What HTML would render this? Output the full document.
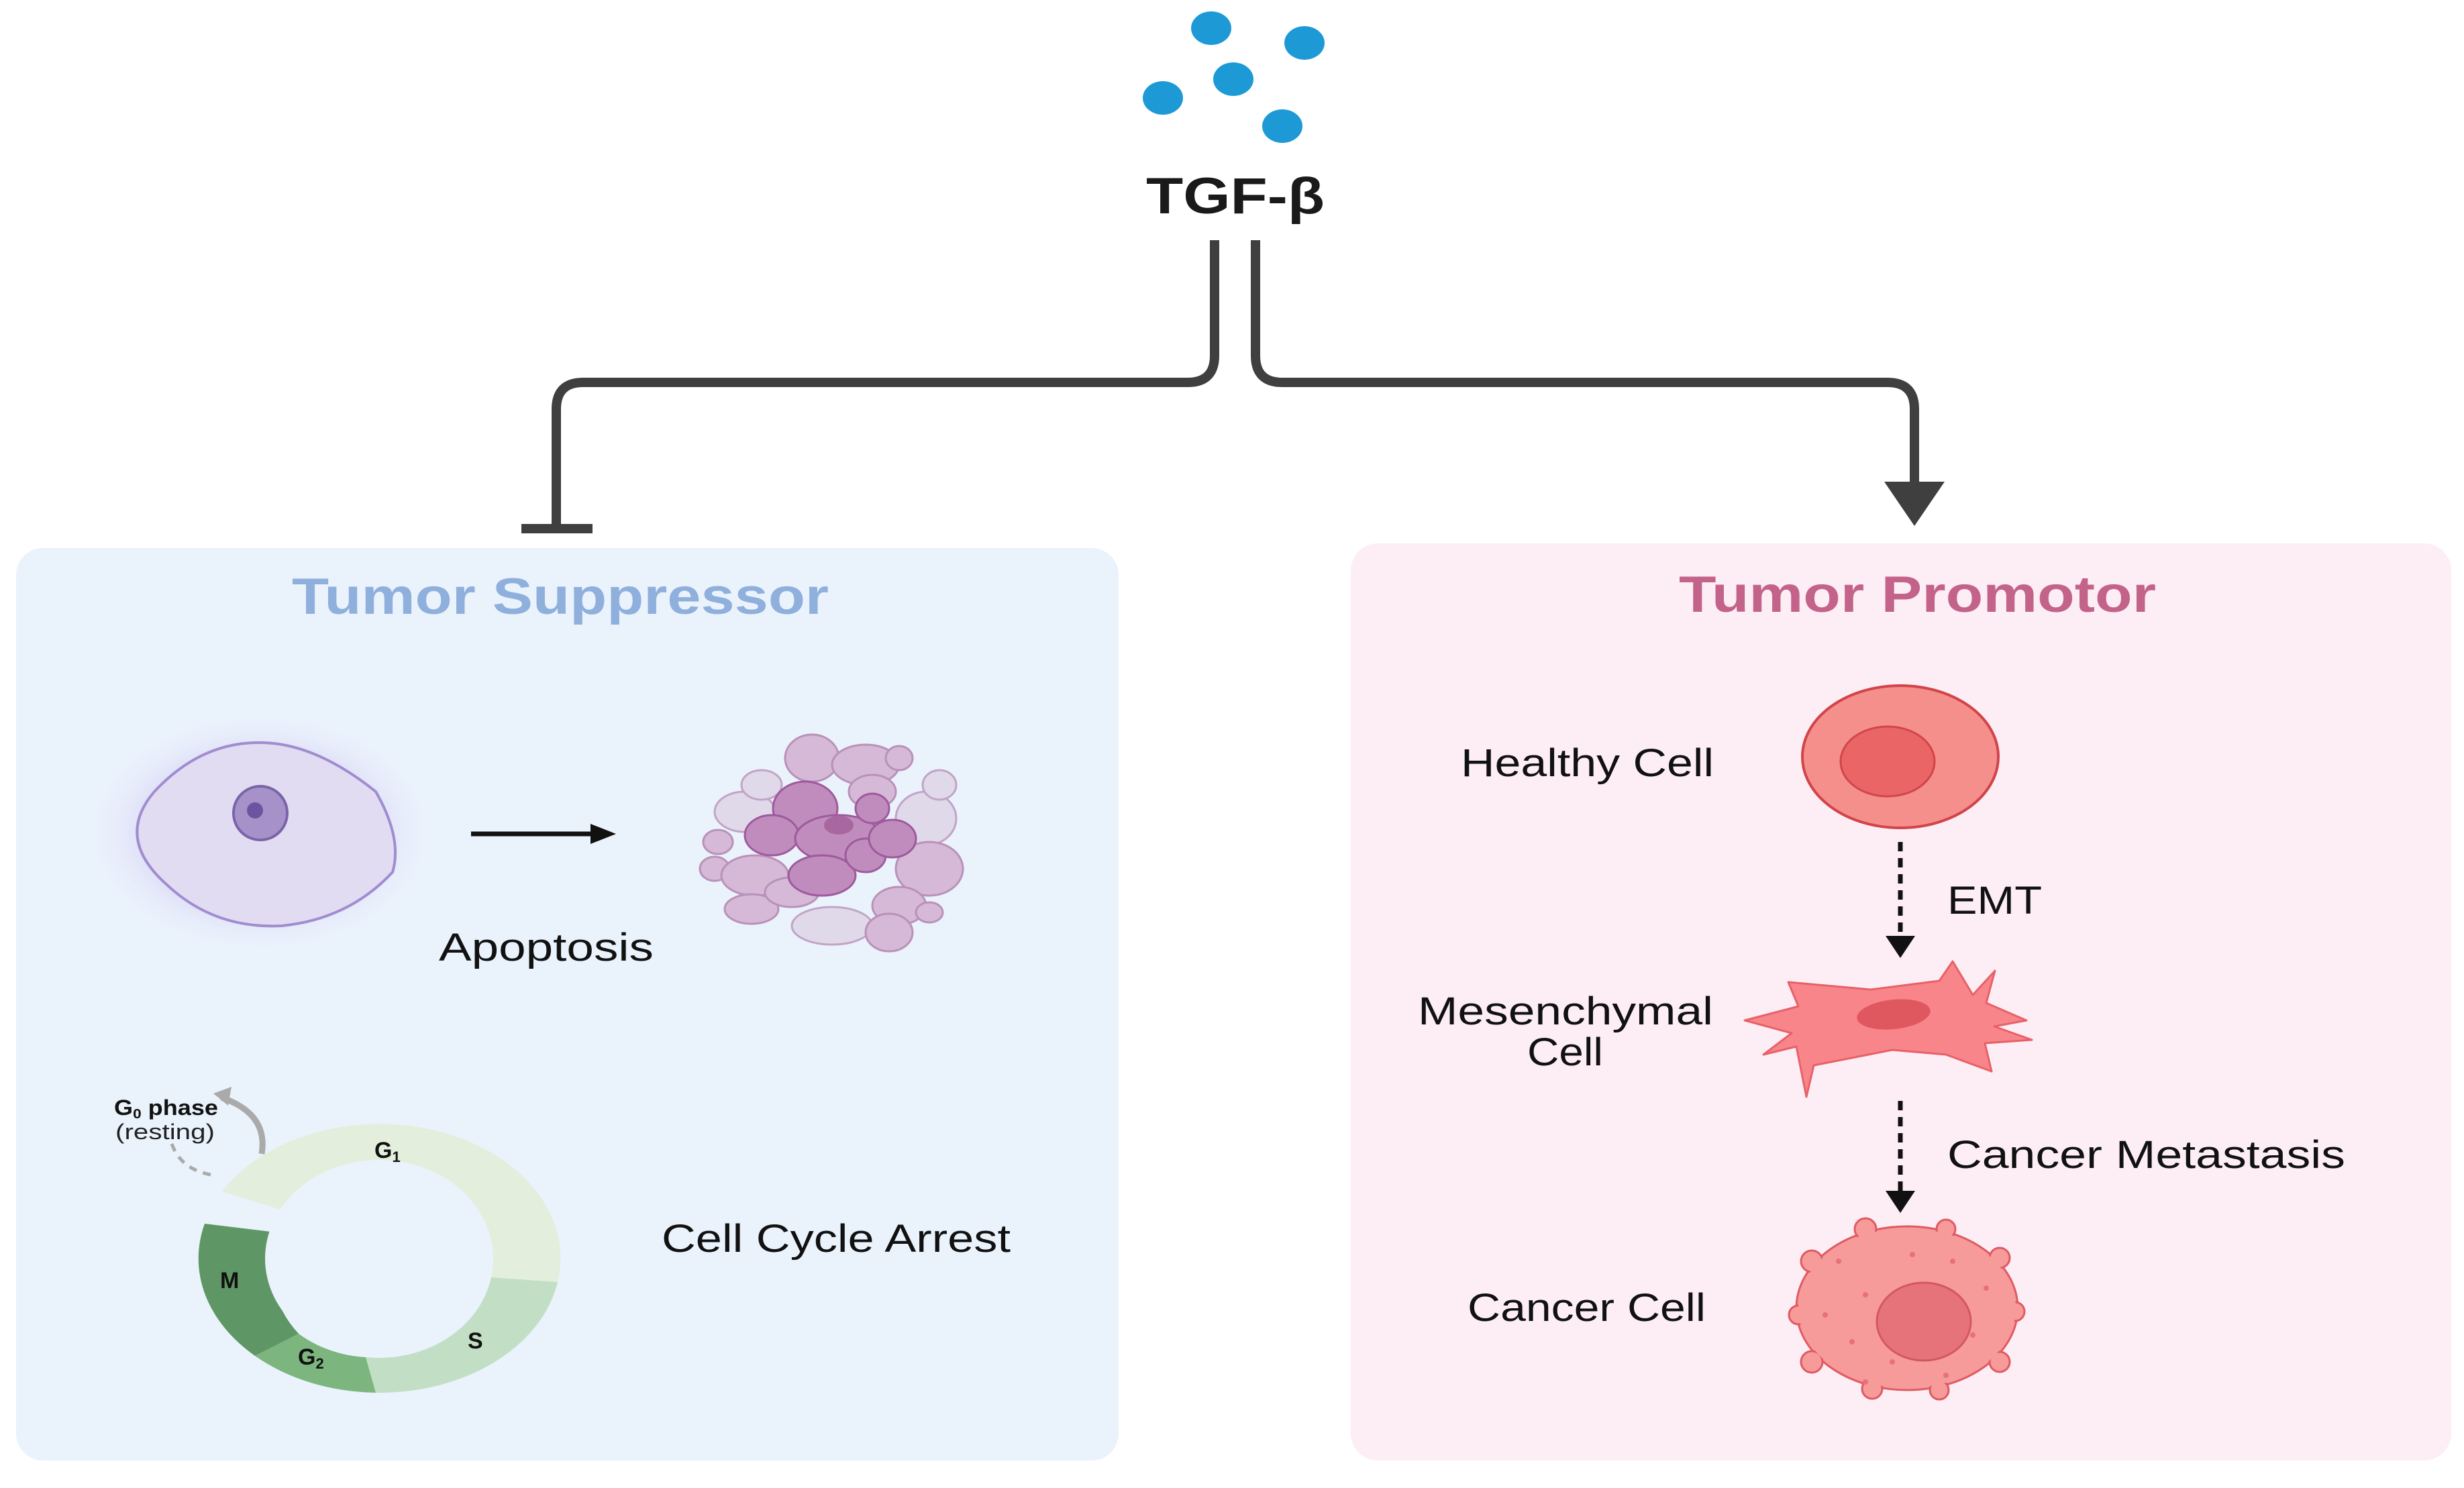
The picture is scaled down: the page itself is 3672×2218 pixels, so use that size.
<!DOCTYPE html>
<html><head><meta charset="utf-8"><style>
html,body{margin:0;padding:0;background:#fff;}
svg{display:block;}
text{font-family:"Liberation Sans",sans-serif;}
</style></head><body>
<svg width="3672" height="2218" viewBox="0 0 3672 2218" xmlns="http://www.w3.org/2000/svg">
<defs>
<radialGradient id="glow" cx="50%" cy="50%" r="50%">
<stop offset="0%" stop-color="#c9bff0" stop-opacity="0.8"/>
<stop offset="70%" stop-color="#d6d0f3" stop-opacity="0.5"/>
<stop offset="100%" stop-color="#eaf2fc" stop-opacity="0"/>
</radialGradient>
</defs>
<rect width="3672" height="2218" fill="#fff"/>
<rect x="24" y="817" width="1643" height="1360" rx="40" fill="#eaf2fc"/>
<rect x="2013" y="810" width="1640" height="1367" rx="40" fill="#fdeef6"/>
<g fill="#1d9ad6">
<ellipse cx="1805" cy="42" rx="30" ry="25"/>
<ellipse cx="1944" cy="64" rx="30" ry="25"/>
<ellipse cx="1838" cy="118" rx="30" ry="25"/>
<ellipse cx="1733" cy="146" rx="30" ry="25"/>
<ellipse cx="1911" cy="188" rx="30" ry="25"/>
</g>
<text x="1708" y="318" font-size="76" font-weight="bold" fill="#1a1a1a" textLength="266" lengthAdjust="spacingAndGlyphs">TGF-β</text>
<g fill="none" stroke="#3f3f3f" stroke-width="14">
<path d="M1810,358 L1810,530 Q1810,570 1770,570 L869,570 Q829,570 829,610 L829,788"/>
<path d="M1871,358 L1871,530 Q1871,570 1911,570 L2813,570 Q2853,570 2853,610 L2853,720"/>
<line x1="777" y1="788" x2="883" y2="788"/>
</g>
<polygon points="2808,718 2898,718 2853,784" fill="#3f3f3f"/>
<text x="435" y="915" font-size="76" font-weight="bold" fill="#8fb0dc" textLength="800" lengthAdjust="spacingAndGlyphs">Tumor Suppressor</text>
<text x="2502" y="912" font-size="76" font-weight="bold" fill="#c4638a" textLength="711" lengthAdjust="spacingAndGlyphs">Tumor Promotor</text>
<ellipse cx="388" cy="1241" rx="260" ry="180" fill="url(#glow)"/>
<path d="M230,1180 Q300,1105 390,1107 Q470,1108 560,1180 Q600,1250 585,1300 Q520,1370 420,1380 Q320,1385 250,1320 Q170,1250 230,1180 Z" fill="#e2dcf2" stroke="#a08cd0" stroke-width="4"/>
<circle cx="388" cy="1212" r="40" fill="#a691c8" stroke="#7a64a8" stroke-width="4"/>
<circle cx="380" cy="1208" r="12" fill="#6e54a0"/>
<line x1="702" y1="1243" x2="885" y2="1243" stroke="#111" stroke-width="7"/>
<polygon points="880,1228 918,1243 880,1258" fill="#111"/>
<text x="654" y="1432" font-size="58" fill="#111" textLength="320" lengthAdjust="spacingAndGlyphs">Apoptosis</text>
<g stroke="#b991b9" stroke-width="3">
<g fill="#ddd3e6" opacity="0.8">
<ellipse cx="1110" cy="1210" rx="45" ry="30"/><ellipse cx="1135" cy="1170" rx="30" ry="22"/>
<ellipse cx="1380" cy="1220" rx="45" ry="40"/><ellipse cx="1240" cy="1380" rx="60" ry="28"/>
<ellipse cx="1400" cy="1170" rx="25" ry="22"/>
</g>
<g fill="#d5b9d6">
<ellipse cx="1070" cy="1255" rx="22" ry="18"/><ellipse cx="1065" cy="1295" rx="22" ry="18"/>
<ellipse cx="1125" cy="1305" rx="50" ry="30"/><ellipse cx="1120" cy="1355" rx="40" ry="22"/>
<ellipse cx="1210" cy="1130" rx="40" ry="35"/><ellipse cx="1290" cy="1140" rx="50" ry="30"/>
<ellipse cx="1340" cy="1130" rx="20" ry="18"/><ellipse cx="1300" cy="1180" rx="35" ry="25"/>
<ellipse cx="1385" cy="1295" rx="50" ry="40"/><ellipse cx="1340" cy="1350" rx="40" ry="28"/>
<ellipse cx="1325" cy="1390" rx="35" ry="28"/><ellipse cx="1385" cy="1360" rx="20" ry="15"/>
<ellipse cx="1180" cy="1330" rx="40" ry="22"/>
</g>
<g fill="#bf8cbd" stroke="#9e5a9c">
<ellipse cx="1200" cy="1205" rx="48" ry="40"/><ellipse cx="1150" cy="1245" rx="40" ry="30"/>
<ellipse cx="1250" cy="1250" rx="65" ry="35"/><ellipse cx="1225" cy="1305" rx="50" ry="30"/>
<ellipse cx="1290" cy="1275" rx="30" ry="25"/><ellipse cx="1300" cy="1205" rx="25" ry="22"/>
<ellipse cx="1330" cy="1250" rx="35" ry="28"/>
</g>
<ellipse cx="1250" cy="1230" rx="22" ry="14" fill="#a8679f" stroke="none"/>
</g>
<g transform="translate(565,1876)">
<path d="M-234,-100 A270,200 0 0 1 266,35 L167,28 A170,147 0 0 0 -147,-73 Z" fill="#e3efdc"/>
<path d="M266,35 A270,200 0 0 1 -5,200 L-20,147 A170,147 0 0 0 167,28 Z" fill="#c2dfc6"/>
<path d="M-5,200 A270,200 0 0 1 -185,145 L-120,112 A170,147 0 0 0 -20,147 Z" fill="#7db57f"/>
<path d="M-185,145 A270,200 0 0 1 -260,-52 L-145,-38 A170,147 0 0 0 -120,112 Z" fill="#5f9665"/>
<ellipse cx="0" cy="0" rx="170" ry="147" fill="#eaf2fc"/>
</g>
<g font-weight="bold" font-size="34" fill="#111">
<text x="558" y="1726">G<tspan font-size="22" dy="6">1</tspan></text>
<text x="697" y="2010">S</text>
<text x="444" y="2034">G<tspan font-size="22" dy="6">2</tspan></text>
<text x="328" y="1920">M</text>
<text x="170" y="1662" font-size="32" textLength="155" lengthAdjust="spacingAndGlyphs">G<tspan font-size="20" dy="5">0</tspan><tspan dy="-5"> phase</tspan></text>
</g>
<text x="172" y="1698" font-size="32" fill="#222" textLength="148" lengthAdjust="spacingAndGlyphs">(resting)</text>
<path d="M330,1636 Q400,1660 390,1720" fill="none" stroke="#aaa" stroke-width="9"/>
<polygon points="318,1630 345,1620 340,1648" fill="#aaa"/>
<path d="M256,1705 Q270,1745 320,1752" fill="none" stroke="#aaa" stroke-width="5" stroke-dasharray="12,10"/>
<text x="986" y="1866" font-size="58" fill="#111" textLength="520" lengthAdjust="spacingAndGlyphs">Cell Cycle Arrest</text>
<text x="2177" y="1157" font-size="58" fill="#111" textLength="377" lengthAdjust="spacingAndGlyphs">Healthy Cell</text>
<ellipse cx="2832" cy="1128" rx="146" ry="106" fill="#f48f8b" stroke="#d2444a" stroke-width="4"/>
<ellipse cx="2813" cy="1135" rx="70" ry="52" fill="#ea6566" stroke="#d2454a" stroke-width="3"/>
<line x1="2832" y1="1255" x2="2832" y2="1395" stroke="#111" stroke-width="7" stroke-dasharray="14,10"/>
<polygon points="2810,1395 2854,1395 2832,1428" fill="#111"/>
<text x="2902" y="1362" font-size="58" fill="#111" textLength="141" lengthAdjust="spacingAndGlyphs">EMT</text>
<text x="2113" y="1527" font-size="58" fill="#111" textLength="440" lengthAdjust="spacingAndGlyphs">Mesenchymal</text>
<text x="2276" y="1588" font-size="58" fill="#111" textLength="113" lengthAdjust="spacingAndGlyphs">Cell</text>
<path d="M2600,1521 L2680,1500 L2665,1464 L2788,1475 L2890,1462 L2910,1433 L2940,1483 L2973,1447 L2960,1495 L3020,1521 L2972,1530 L3028,1550 L2958,1555 L2968,1597 L2900,1572 L2820,1565 L2703,1588 L2692,1635 L2677,1560 L2628,1572 L2670,1540 Z" fill="#f7858a" stroke="#e86168" stroke-width="3" stroke-linejoin="round"/>
<ellipse cx="2822" cy="1512" rx="55" ry="22" fill="#e0585f" transform="rotate(-6 2822 1512)"/>
<line x1="2832" y1="1641" x2="2832" y2="1775" stroke="#111" stroke-width="7" stroke-dasharray="14,10"/>
<polygon points="2810,1775 2854,1775 2832,1808" fill="#111"/>
<text x="2902" y="1741" font-size="58" fill="#111" textLength="593" lengthAdjust="spacingAndGlyphs">Cancer Metastasis</text>
<text x="2187" y="1969" font-size="58" fill="#111" textLength="355" lengthAdjust="spacingAndGlyphs">Cancer Cell</text>
<g fill="#f69a9a" stroke="#e05a62" stroke-width="3">
<ellipse cx="2842" cy="1950" rx="165" ry="122"/>
<circle cx="2780" cy="1832" r="16"/><circle cx="2700" cy="1880" r="16"/><circle cx="2680" cy="1960" r="14"/>
<circle cx="2700" cy="2030" r="16"/><circle cx="2790" cy="2070" r="15"/><circle cx="2890" cy="2072" r="14"/>
<circle cx="2980" cy="2030" r="15"/><circle cx="3003" cy="1955" r="14"/><circle cx="2980" cy="1875" r="15"/>
<circle cx="2900" cy="1832" r="14"/>
</g>
<ellipse cx="2842" cy="1950" rx="162" ry="119" fill="#f69a9a"/>
<ellipse cx="2867" cy="1970" rx="70" ry="58" fill="#e7737a" stroke="#d25860" stroke-width="3"/>
<g fill="#e8707a">
<circle cx="2740" cy="1880" r="4"/><circle cx="2780" cy="1930" r="4"/><circle cx="2720" cy="1960" r="4"/>
<circle cx="2760" cy="2000" r="4"/><circle cx="2820" cy="2030" r="4"/><circle cx="2940" cy="1990" r="4"/>
<circle cx="2960" cy="1920" r="4"/><circle cx="2850" cy="1870" r="4"/><circle cx="2910" cy="1880" r="4"/>
<circle cx="2780" cy="2060" r="4"/><circle cx="2900" cy="2050" r="4"/>
</g>
</svg>
</body></html>
